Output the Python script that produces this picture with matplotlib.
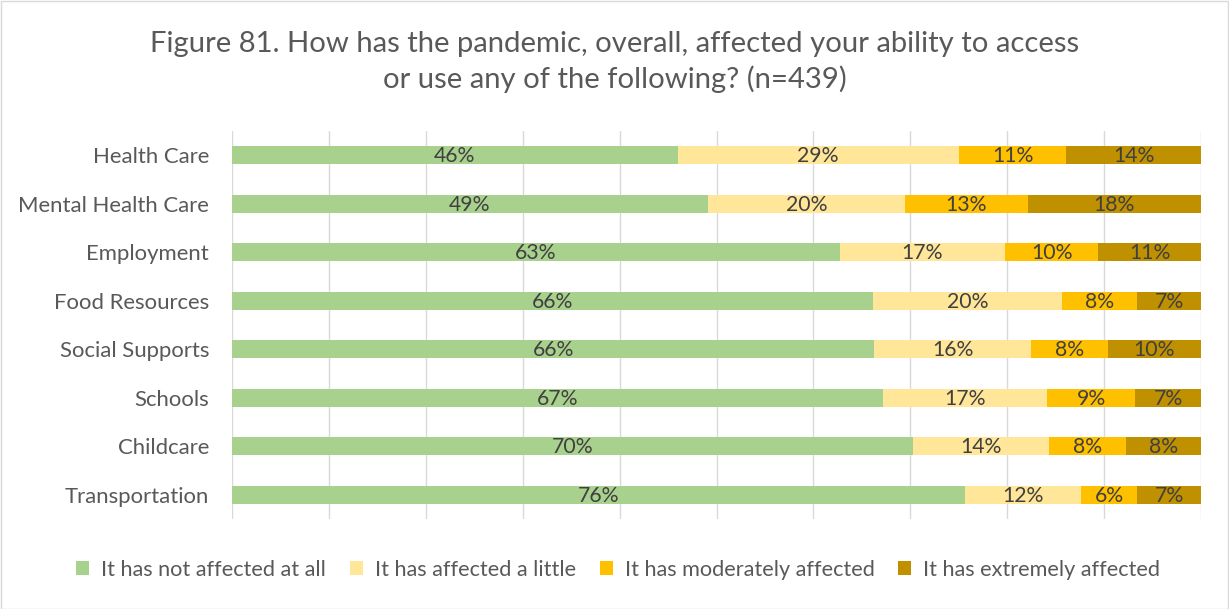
import matplotlib
matplotlib.use("Agg")
import matplotlib.pyplot as plt
from matplotlib.patches import Rectangle, Patch

categories = ["Health Care", "Mental Health Care", "Employment", "Food Resources",
              "Social Supports", "Schools", "Childcare", "Transportation"]
series_names = ["It has not affected at all", "It has affected a little",
                "It has moderately affected", "It has extremely affected"]
not_at_all = [46.0, 49.1, 62.7, 66.1, 66.3, 67.2, 70.3, 75.6]
a_little   = [29.0, 20.4, 17.1, 19.6, 16.2, 16.9, 14.0, 12.0]
moderately = [11.1, 12.6, 9.6, 7.7, 7.9, 9.1, 8.0, 5.8]
extremely  = [13.9, 17.9, 10.6, 6.6, 9.6, 6.8, 7.7, 6.6]
series = [not_at_all, a_little, moderately, extremely]
colors = ["#A9D18E", "#FFE699", "#FFC000", "#BF9000"]
title = "Figure 81. How has the pandemic, overall, affected your ability to access\nor use any of the following? (n=439)"

FONT = "Lato"
W, H = 1229, 609
fig = plt.figure(figsize=(W / 100, H / 100), dpi=100)
fig.patch.set_facecolor("white")
fig.add_artist(Rectangle((0.5 / W, 0.5 / H), 1 - 1.5 / W, 1 - 1.5 / H, transform=fig.transFigure,
                         fill=False, edgecolor="#D9D9D9", linewidth=1.0))

ax = fig.add_axes([232 / W, (H - 519) / H, (1201 - 232) / W, (519 - 131) / H])
ypos = list(range(len(categories)))
left = [0.0] * len(categories)
for vals, col in zip(series, colors):
    ax.barh(ypos, vals, left=left, height=0.38, color=col, zorder=3)
    for i, v in enumerate(vals):
        ax.text(left[i] + v / 2, i + 0.02, f"{v:.0f}%", ha="center", va="center",
                fontsize=15.3, color="#404040", family=FONT, zorder=4)
    left = [l + v for l, v in zip(left, vals)]

ax.set_xlim(0, 100)
ax.set_ylim(len(categories) - 0.5, -0.5)
ax.set_xticks(range(0, 101, 10))
ax.xaxis.grid(True, color="#D9D9D9", linewidth=1.0, zorder=0)
ax.tick_params(axis="x", length=0, labelbottom=False)
ax.tick_params(axis="y", length=0, pad=16.5)
ax.set_yticks(ypos)
ax.set_yticklabels(categories, fontsize=15.9, color="#595959", family=FONT)
for s in ax.spines.values():
    s.set_visible(False)

fig.text(0.5, (H - 62) / H, title, ha="center", va="center", fontsize=21.1, color="#595959",
         family=FONT, linespacing=1.4)

handles = [Patch(facecolor=c, edgecolor="none") for c in colors]
fig.legend(handles, series_names, loc="center", bbox_to_anchor=(0.503, (H - 570) / H), ncol=4,
           frameon=False, prop={"family": FONT, "size": 15.6}, labelcolor="#595959",
           handlelength=0.6, handleheight=0.6, handletextpad=0.55, columnspacing=1.1)

fig.savefig("out.png", dpi=100)
